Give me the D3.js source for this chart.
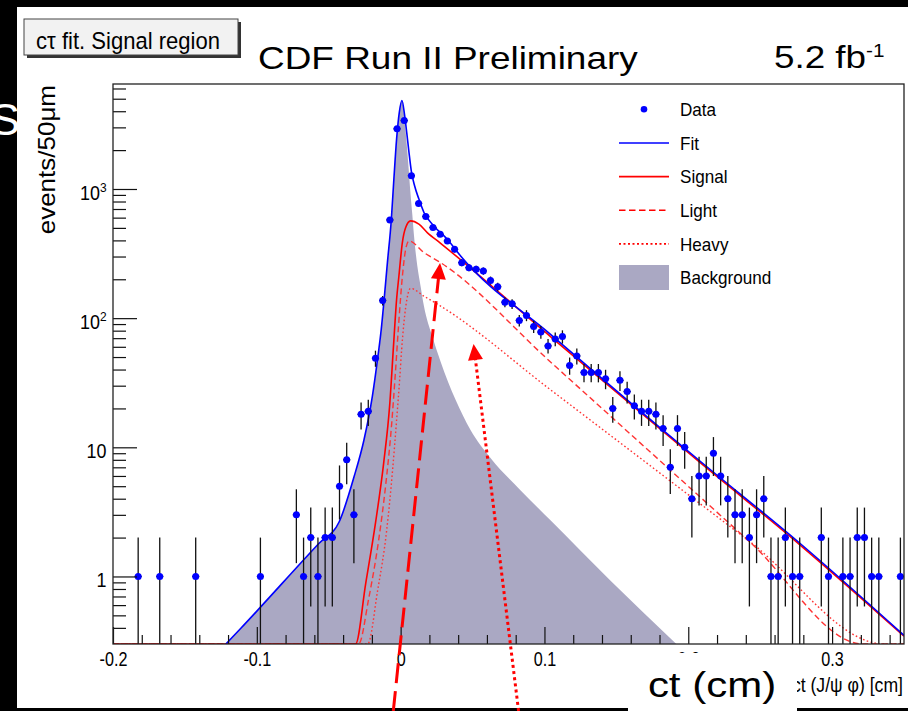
<!DOCTYPE html>
<html><head><meta charset="utf-8">
<script src="https://cdn.jsdelivr.net/npm/d3@7"></script>
<style>
body{margin:0;background:#fff}
svg{display:block}
text{font-family:"Liberation Sans",Arial,Helvetica,sans-serif}
</style>
</head><body>
<svg id="c" width="908" height="711"></svg>
<script>
// ---------------- data ----------------
const binCenters = [-0.1825,-0.1675,-0.1425,-0.0975,
 -0.0725,-0.0675,-0.0625,-0.0575,-0.0525,-0.0475,-0.0425,-0.0375,-0.0325,-0.0275,-0.0225,-0.0175,-0.0125,-0.0075,-0.0025,
 0.0025,0.0075,0.0125,0.0175,0.0225,0.0275,0.0325,0.0375,0.0425,0.0475,0.0525,0.0575,0.0625,0.0675,0.0725,0.0775,
 0.0825,0.0875,0.0925,0.0975,0.1025,0.1075,0.1125,0.1175,0.1225,0.1275,0.1325,0.1375,0.1425,0.1475,0.1525,0.1575,
 0.1625,0.1675,0.1725,0.1775,0.1825,0.1875,0.1925,0.1975,0.2025,0.2075,0.2125,0.2175,0.2225,0.2275,0.2325,0.2375,
 0.2425,0.2475,0.2525,0.2575,0.2625,0.2675,0.2725,0.2775,
 0.2925,0.2975,0.3075,0.3125,0.3175,0.3225,0.3275,0.3325,0.3475];
const counts = [1,1,1,1,
 3,1,2,1,2,2,5,8,3,18,19,49,137,576,2922,
 3388,1267,773,612,503,446,396,341,269,246,239,232,196,175,133,129,
 96,105,86,78,61,69,72,43,51,38,38,38,34,20,33,27,
 21,19,19,18,14,7,14,10,4,6,6,9,6,4,3,3,
 2,3,4,1,1,2,1,1,
 2,1,1,1,2,2,1,1,1];
const binWidth = 0.005;

const fitX = [-0.1215,-0.1111,-0.0569,-0.0428,-0.0324,-0.0255,-0.0197,-0.0158,-0.0135,-0.0116,-0.0092,-0.0065,-0.0047,-0.0028,-0.0009,0.0009,0.0028,0.0042,0.0058,0.0074,0.0097,0.0127,0.0162,0.0231,0.0324,0.0417,0.1042,0.2083,0.2778,0.35];
const fitY = [0.3,0.397,1.80,2.64,5.91,11.4,24.7,50.6,81.5,135,269,576,1194,2443,3936,4844,3705,2754,1924,1384,1059,835,658,518,408,303,75,7.8,1.8,0.35];

const signalX = [-0.2,-0.0313,-0.0243,-0.0174,-0.0118,-0.0076,-0.0049,-0.0028,-0.0012,0.0012,0.0035,0.0069,0.0127,0.0185,0.0278,0.1042,0.2083,0.2778,0.35];
const signalY = [0.3,0.3,0.88,2.63,7.55,21.3,62.4,140,212,385,503,566,534,460,380,72,7.6,1.75,0.345];

const lightX = [-0.2,-0.0292,-0.0222,-0.0153,-0.0104,-0.0063,-0.0035,-0.0014,0.0012,0.0035,0.0058,0.0162,0.0278,0.1042,0.2431,0.3213,0.35];
const lightY = [0.3,0.3,0.675,1.905,5.1,14.9,39.9,89.1,210,341,396,322,269,45.8,1.84,0.3,0.3];

const heavyX = [-0.2,-0.0229,-0.016,-0.0097,-0.0056,-0.0028,-0.0007,0.0007,0.0023,0.0047,0.0069,0.0162,0.0278,0.1042,0.2431,0.336,0.35];
const heavyY = [0.3,0.3,0.778,2.28,6.66,16.3,33.3,57,92.4,147,170,148,124,27.9,1.85,0.3,0.3];

const bgX = [-0.1215,-0.1111,-0.0569,-0.0428,-0.0324,-0.0255,-0.0197,-0.0158,-0.0135,-0.0116,-0.0092,-0.0065,-0.0047,-0.0028,-0.0009,0.0009,0.0028,0.0042,0.0056,0.0069,0.0081,0.0092,0.0116,0.0139,0.0162,0.022,0.0278,0.0382,0.0486,0.0625,0.0833,0.1042,0.1458,0.1917];
const bgY = [0.3,0.397,1.80,2.64,5.85,11.2,24,48.5,77,128,258,560,1170,2420,3920,4830,3373,2234,1429,912,638,447,253,176,124,72.3,46,23.3,13.6,8.27,4.66,2.72,0.93,0.3];

const xDomain = [-0.2, 0.35];
const yDomain = [0.3, 6500];
const xTickValues = [-0.2,-0.1,0,0.1,0.2,0.3];
const xTickLabels = ["-0.2","-0.1","0","0.1","0.2","0.3"];
const xMinorTicks = [-0.18,-0.16,-0.14,-0.12,-0.08,-0.06,-0.04,-0.02,0.02,0.04,0.06,0.08,0.12,0.14,0.16,0.18,0.22,0.24,0.26,0.28,0.32,0.34];
const yTickValues = [1,10,100,1000];
const yTickBase = ["1","10","10","10"];
const yTickExp = ["","","2","3"];
const yMinorTicks = [0.4,0.5,0.6,0.7,0.8,0.9,2,3,4,5,6,7,8,9,20,30,40,50,60,70,80,90,200,300,400,500,600,700,800,900,2000,3000,4000,5000,6000];
const legendLabels = ["Data","Fit","Signal","Light","Heavy","Background"];
const arrowFrom = [[-0.0051,0.0909],[0.082,0.0909]];
const arrowTo = [[0.0274,267],[0.0507,63]];
const arrowStyles = ["dashed","dotted"];

// ---------------- drawing ----------------
const W = 908, H = 711;
const M = {left:113, right:904, top:84, bottom:644};
const svg = d3.select("#c");
const x = d3.scaleLinear().domain(xDomain).range([M.left, M.right]);
const y = d3.scaleLog().domain(yDomain).range([M.bottom, M.top]);
const BLUE = "#0000ff", RED = "#ff0000", GRAY = "#aaa8c3";

svg.append("rect").attr("width",W).attr("height",H).attr("fill","#fff");

svg.append("defs").append("clipPath").attr("id","plot")
  .append("rect").attr("x",M.left).attr("y",M.top)
  .attr("width",M.right-M.left).attr("height",M.bottom-M.top);

const plot = svg.append("g").attr("clip-path","url(#plot)");
const cl = v => Math.max(v, yDomain[0]);

// background area
const bgData = bgX.map((d,i)=>[d,bgY[i]]);
plot.append("path")
  .attr("d", d3.area().x(d=>x(d[0])).y0(y(yDomain[0])).y1(d=>y(cl(d[1]))).curve(d3.curveMonotoneX)(bgData))
  .attr("fill", GRAY).attr("stroke","none");

function curve(xs, ys){
  return d3.line().x(d=>x(d[0])).y(d=>y(cl(d[1]))).curve(d3.curveMonotoneX)(xs.map((d,i)=>[d,ys[i]]));
}
plot.append("path").attr("d",curve(heavyX,heavyY)).attr("fill","none")
  .attr("stroke","#ff3333").attr("stroke-width",1.4).attr("stroke-dasharray","1.6,2.4");
plot.append("path").attr("d",curve(lightX,lightY)).attr("fill","none")
  .attr("stroke","#ff3333").attr("stroke-width",1.4).attr("stroke-dasharray","6,3.5");
plot.append("path").attr("d",curve(signalX,signalY)).attr("fill","none")
  .attr("stroke",RED).attr("stroke-width",1.6);
plot.append("path").attr("d",curve(fitX,fitY)).attr("fill","none")
  .attr("stroke",BLUE).attr("stroke-width",1.6);

// data points
const pts = binCenters.map((c,i)=>({x:c, n:counts[i]}));
const dg = plot.append("g");
dg.selectAll("line.v").data(pts).join("line").attr("class","v")
  .attr("x1",d=>x(d.x)).attr("x2",d=>x(d.x))
  .attr("y1",d=>y(cl(d.n-Math.sqrt(d.n)))).attr("y2",d=>y(d.n+Math.sqrt(d.n)))
  .attr("stroke","#111").attr("stroke-width",1.3);
dg.selectAll("line.h").data(pts).join("line").attr("class","h")
  .attr("x1",d=>x(d.x-binWidth/2)).attr("x2",d=>x(d.x+binWidth/2))
  .attr("y1",d=>y(d.n)).attr("y2",d=>y(d.n))
  .attr("stroke","#111").attr("stroke-width",1.3);
dg.selectAll("circle").data(pts).join("circle")
  .attr("cx",d=>x(d.x)).attr("cy",d=>y(d.n)).attr("r",3.5).attr("fill",BLUE);

// axes
const gxMinor = svg.append("g").attr("transform",`translate(0,${M.bottom})`)
  .call(d3.axisBottom(x).tickValues(xMinorTicks).tickSize(-9).tickFormat(""));
gxMinor.select(".domain").remove();
const gx = svg.append("g").attr("transform",`translate(0,${M.bottom})`)
  .call(d3.axisBottom(x).tickValues(xTickValues).tickSize(-17).tickPadding(7).tickFormat((d,i)=>xTickLabels[i]));
gx.select(".domain").remove();
gx.selectAll("text").attr("font-size",21).attr("fill","#000")
  .attr("font-family","Liberation Sans, Arial, sans-serif").attr("transform","scale(0.77,1)");
svg.selectAll(".tick line").attr("stroke","#111").attr("stroke-width",1.2);

const gyMinor = svg.append("g").attr("transform",`translate(${M.left},0)`)
  .call(d3.axisLeft(y).tickValues(yMinorTicks).tickSize(-13).tickFormat(""));
gyMinor.select(".domain").remove();
const gy = svg.append("g").attr("transform",`translate(${M.left},0)`)
  .call(d3.axisLeft(y).tickValues(yTickValues).tickSize(-24).tickPadding(7).tickFormat((d,i)=>yTickBase[i]));
gy.select(".domain").remove();
gy.selectAll("text").each(function(d,i){
  const t = d3.select(this);
  t.text(null).attr("font-size",19.5).attr("fill","#000").attr("dy","0.52em")
   .attr("font-family","Liberation Sans, Arial, sans-serif").attr("transform","scale(0.92,1)");
  t.append("tspan").text(yTickBase[i]);
  if (yTickExp[i]) t.append("tspan").attr("font-size",13).attr("dy","-0.62em").text(yTickExp[i]);
});
svg.selectAll(".tick line").attr("stroke","#111").attr("stroke-width",1.2);

// frame
svg.append("rect").attr("x",M.left).attr("y",M.top).attr("width",M.right-M.left).attr("height",M.bottom-M.top)
  .attr("fill","none").attr("stroke","#222").attr("stroke-width",1.3);

// axis titles
svg.append("g").attr("transform",`translate(903,692) scale(0.86,1)`)
  .append("text").attr("text-anchor","end").attr("font-size",20.5).text("ct (J/ψ φ) [cm]");
svg.append("g").attr("transform",`translate(55,85) rotate(-90) scale(1,0.9)`)
  .append("text").attr("text-anchor","end").attr("font-size",26).text("events/50μm");

// legend
const legend = svg.append("g");
legendLabels.forEach((lab,i)=>{
  const cy = 109.3 + i*33.64;
  const g = legend.append("g");
  if (i===0) g.append("circle").attr("cx",644).attr("cy",cy).attr("r",3.3).attr("fill",BLUE);
  else if (i===5) g.append("rect").attr("x",619).attr("y",cy-12.5).attr("width",50).attr("height",25).attr("fill",GRAY);
  else {
    const ln = g.append("line").attr("x1",619).attr("x2",669).attr("y1",cy).attr("y2",cy).attr("stroke-width",1.6);
    if (i===1) ln.attr("stroke",BLUE);
    if (i===2) ln.attr("stroke",RED);
    if (i===3) ln.attr("stroke",RED).attr("stroke-dasharray","6.5,3.5");
    if (i===4) ln.attr("stroke",RED).attr("stroke-dasharray","2,2.5");
  }
  g.append("g").attr("transform",`translate(680,${cy+6.7}) scale(0.92,1)`)
    .append("text").attr("font-size",18.6).text(lab);
});

// title box
svg.append("rect").attr("x",27).attr("y",22).attr("width",214).attr("height",36).attr("fill","#333");
svg.append("rect").attr("x",24).attr("y",19).attr("width",214).attr("height",36).attr("fill","#f2f2f2")
  .attr("stroke","#444").attr("stroke-width",1);
svg.append("g").attr("transform","translate(128,49) scale(0.9,1)")
  .append("text").attr("text-anchor","middle").attr("font-size",24.5).text("cτ fit. Signal region");

// header texts
svg.append("g").attr("transform","translate(258,69) scale(1.155,1)")
  .append("text").attr("font-size",32).text("CDF Run II Preliminary");
const lum = svg.append("g").attr("transform","translate(774,68) scale(1.15,1)").append("text").attr("font-size",32);
lum.append("tspan").text("5.2 fb");
lum.append("tspan").attr("font-size",18).attr("dy",-11).text("-1");

// black borders
svg.append("rect").attr("x",0).attr("y",0).attr("width",W).attr("height",7).attr("fill","#000");
svg.append("rect").attr("x",0).attr("y",0).attr("width",17).attr("height",H).attr("fill","#000");
svg.append("rect").attr("x",0).attr("y",708).attr("width",W).attr("height",3).attr("fill","#000");
svg.append("text").attr("x",-10).attr("y",135).attr("font-family","Liberation Serif, Times New Roman, serif")
  .attr("font-size",45).attr("fill","#fff").text("S");

// ct (cm) label box
svg.append("rect").attr("x",628).attr("y",653).attr("width",169).attr("height",58).attr("fill","#fff");
svg.append("g").attr("transform","translate(712,697) scale(1.2,1)")
  .append("text").attr("text-anchor","middle").attr("font-size",35).text("ct (cm)");

// arrows
arrowFrom.forEach((s,i)=>{
  const p0 = [x(s[0]), y(s[1])], p1 = [x(arrowTo[i][0]), y(arrowTo[i][1])];
  const dx = p1[0]-p0[0], dy = p1[1]-p0[1], L = Math.hypot(dx,dy);
  const ux = dx/L, uy = dy/L, nx = -uy, ny = ux;
  const hl = 16, hw = 7.5;
  const b = [p1[0]-ux*hl, p1[1]-uy*hl];
  const ln = svg.append("line").attr("x1",p0[0]).attr("y1",p0[1]).attr("x2",b[0]+ux*2).attr("y2",b[1]+uy*2)
    .attr("stroke",RED).attr("stroke-width",3);
  if (arrowStyles[i]==="dashed") ln.attr("stroke-dasharray","20,8");
  else ln.attr("stroke-dasharray","3,3.2");
  svg.append("path").attr("d",`M${p1[0]},${p1[1]}L${b[0]+nx*hw},${b[1]+ny*hw}L${b[0]-nx*hw},${b[1]-ny*hw}Z`).attr("fill",RED);
});
</script>
</body></html>
